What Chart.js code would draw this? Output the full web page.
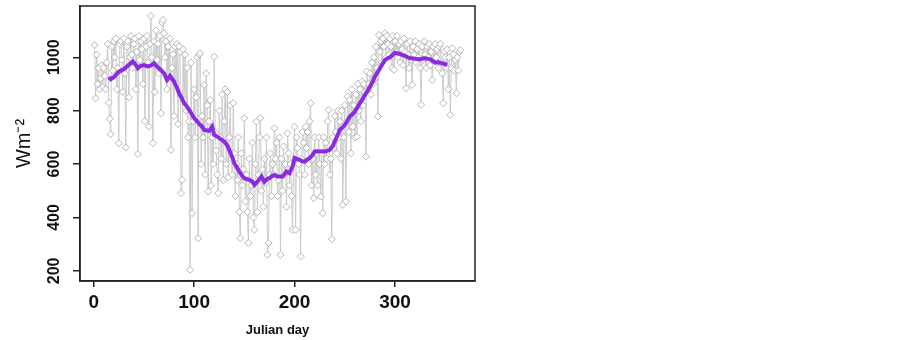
<!DOCTYPE html>
<html>
<head>
<meta charset="utf-8">
<script src="https://cdn.jsdelivr.net/npm/chart.js@4.4.1/dist/chart.umd.min.js"></script>
<style>
  html, body { margin: 0; padding: 0; background: #ffffff; }
  #wrap { width: 903px; height: 340px; }
</style>
</head>
<body>
<div id="wrap"><canvas id="c" width="903" height="340"></canvas></div>
<script>
// Daily irradiance (gray), day 1..365
const dailyValues = [
  1046, 846, 1010, 900, 960, 880, 920, 970, 890, 960,
  930, 880, 980, 1050, 830, 770, 712, 1040, 950, 1060,
  1000, 1070, 880, 960, 678, 1050, 1060, 990, 870, 1070,
  940, 662, 1040, 1060, 850, 1000, 1080, 1010, 960, 1050,
  1070, 880, 1020, 637, 1080, 990, 1060, 1030, 900, 1070,
  760, 1040, 1080, 980, 740, 1050, 1155, 1000, 678, 1060,
  870, 1100, 990, 1050, 940, 1080, 790, 1130, 1140, 1090,
  1000, 1060, 880, 1040, 920, 1070, 653, 960, 1010, 780,
  1040, 900, 1050, 750, 1040, 1020, 491, 541, 1030, 840,
  1010, 800, 960, 700, 760, 204, 980, 416, 760, 880,
  700, 850, 1000, 322, 1010, 1015, 600, 780, 700, 896,
  560, 940, 820, 497, 760, 840, 520, 700, 600, 1002,
  720, 650, 560, 491, 800, 700, 620, 860, 540, 760,
  880, 600, 870, 550, 700, 820, 620, 560, 828, 640,
  480, 600, 540, 700, 420, 322, 640, 520, 580, 772,
  460, 560, 420, 304, 620, 480, 520, 680, 400, 354,
  600, 759, 420, 560, 700, 772, 500, 580, 440, 620,
  530, 700, 260, 304, 560, 640, 480, 600, 560, 734,
  620, 680, 480, 540, 700, 260, 620, 500, 666, 560,
  600, 440, 715, 640, 520, 600, 480, 354, 620, 740,
  354, 700, 660, 600, 560, 254, 620, 720, 680, 560,
  740, 660, 720, 600, 760, 828, 520, 620, 472, 700,
  560, 640, 520, 700, 600, 478, 640, 416, 700, 600,
  680, 620, 760, 803, 560, 620, 319, 700, 660, 780,
  720, 640, 800, 700, 760, 620, 800, 447, 700, 820,
  460, 760, 853, 720, 840, 640, 880, 740, 820, 700,
  860, 703, 900, 800, 880, 760, 910, 820, 900, 870,
  628, 946, 880, 900, 940, 860, 980, 900, 1000, 920,
  1040, 960, 778, 1084, 1020, 1060, 980, 1070, 1040, 1090,
  1000, 1080, 1050, 1010, 1070, 1040, 960, 1080, 953, 1060,
  1020, 1080, 1000, 1050, 980, 1060, 1030, 970, 1070, 1020,
  884, 1050, 1010, 960, 1060, 990, 896, 1040, 1010, 1060,
  980, 1030, 1000, 1050, 960, 822, 1040, 990, 1060, 1010,
  960, 1040, 1000, 1050, 970, 1020, 915, 1040, 990, 1050,
  1000, 1030, 960, 1040, 1050, 980, 940, 828, 1020, 1000,
  960, 1030, 880, 1000, 784, 960, 1034, 1010, 950, 990,
  865, 1000, 950, 1020, 1027
];
const dailyDays = dailyValues.map((_, i) => i + 1);

// Smoothed mean (purple)
const meanDays = [15,17,20,25,30,33,36,39,42,44,47,50,54,57,60,63,66,70,73,76,80,83,85,88,90,93,95,98,100,103,105,108,110,113,115,118,120,123,125,128,130,133,135,138,140,143,145,148,150,153,155,158,160,163,167,170,173,175,178,180,183,185,188,190,192,195,198,200,203,205,208,210,213,215,218,220,223,225,228,230,233,235,238,240,243,245,248,250,253,255,258,260,263,265,268,270,273,275,278,280,283,285,288,290,293,295,298,300,303,305,308,310,313,315,318,320,323,325,328,330,333,335,338,340,343,345,348,350,352];
const meanValues = [925,918,925,946,955,965,975,984,971,959,968,971,966,969,978,965,955,940,915,930,909,885,865,845,828,815,803,785,772,760,750,740,728,726,724,740,709,703,697,690,684,670,653,625,603,585,572,555,547,543,541,535,522,534,553,534,545,547,556,559,553,553,553,562,572,566,591,622,618,616,610,609,618,622,635,647,648,647,648,647,650,653,668,684,710,728,738,747,765,778,788,797,815,828,845,859,877,890,910,928,946,959,978,990,997,1000,1010,1017,1014,1012,1008,1005,999,996,995,994,993,993,995,996,994,993,985,980,981,980,976,974,972];

const xTicks = [0, 100, 200, 300];
const yTicks = [200, 400, 600, 800, 1000];
const xTitle = 'Julian day';
const yTitle = 'Wm\u207B\u00B2';

const boxPlugin = {
  id: 'box',
  beforeDraw(chart) {
    const ctx = chart.ctx;
    ctx.save();
    ctx.fillStyle = '#ffffff';
    ctx.fillRect(0, 0, chart.width, chart.height);
    ctx.restore();
  },
  afterDraw(chart) {
    const a = chart.chartArea;
    const ctx = chart.ctx;
    ctx.save();
    ctx.strokeStyle = '#222222';
    ctx.lineWidth = 1.5;
    ctx.strokeRect(a.left, a.top, a.right - a.left, a.bottom - a.top);
    ctx.restore();
  }
};

new Chart(document.getElementById('c'), {
  type: 'line',
  data: {
    datasets: [
      {
        label: 'mean',
        data: meanDays.map((d, i) => ({ x: d, y: meanValues[i] })),
        borderColor: '#8a2be2',
        borderWidth: 4,
        pointRadius: 0,
        tension: 0,
        order: 0
      },
      {
        label: 'daily',
        data: dailyDays.map((d, i) => ({ x: d, y: dailyValues[i] })),
        borderColor: '#cccccc',
        borderWidth: 1,
        pointStyle: 'rectRot',
        pointRadius: 3.5,
        pointBorderWidth: 0.8,
        pointBorderColor: '#a5a5a5',
        pointBackgroundColor: '#ffffff',
        tension: 0,
        order: 1
      }
    ]
  },
  options: {
    responsive: false,
    animation: false,
    devicePixelRatio: 1,
    layout: { padding: { left: 0, right: 428, top: 6, bottom: 0 } },
    plugins: { legend: { display: false }, tooltip: { enabled: false } },
    scales: {
      x: {
        type: 'linear',
        min: -13.6,
        max: 379.6,
        afterBuildTicks: s => { s.ticks = xTicks.map(v => ({ value: v })); },
        afterFit: s => { s.height = 59; s.paddingLeft = 0; s.paddingRight = 0; },
        grid: { drawOnChartArea: false, drawTicks: true, tickLength: 6, color: '#222222', lineWidth: 1.5 },
        border: { display: true, color: '#222222', width: 1.5 },
        ticks: {
          color: '#111111',
          font: { family: 'Liberation Sans', size: 19, weight: 'bold' },
          padding: 4,
          maxRotation: 0,
          minRotation: 0,
          callback: v => String(v)
        },
        title: {
          display: true,
          text: xTitle,
          color: '#111111',
          font: { family: 'Liberation Sans', size: 13, weight: 'bold', lineHeight: 1.2 },
          padding: { top: 0, bottom: 2 }
        }
      },
      y: {
        type: 'linear',
        min: 162,
        max: 1192,
        afterBuildTicks: s => { s.ticks = yTicks.map(v => ({ value: v })); },
        afterFit: s => { s.width = 80; s.paddingTop = 0; s.paddingBottom = 0; },
        grid: { drawOnChartArea: false, drawTicks: true, tickLength: 7, color: '#222222', lineWidth: 1.5 },
        border: { display: true, color: '#222222', width: 1.5 },
        ticks: {
          color: '#111111',
          font: { family: 'Liberation Sans', size: 16, weight: 'bold' },
          padding: 1,
          minRotation: 90,
          maxRotation: 90,
          crossAlign: 'center',
          callback: v => String(v)
        },
        title: {
          display: true,
          text: yTitle,
          color: '#111111',
          font: { family: 'Liberation Sans', size: 20, lineHeight: 1.2 },
          padding: { top: 12, bottom: 0 }
        }
      }
    }
  },
  plugins: [boxPlugin]
});
</script>
</body>
</html>
